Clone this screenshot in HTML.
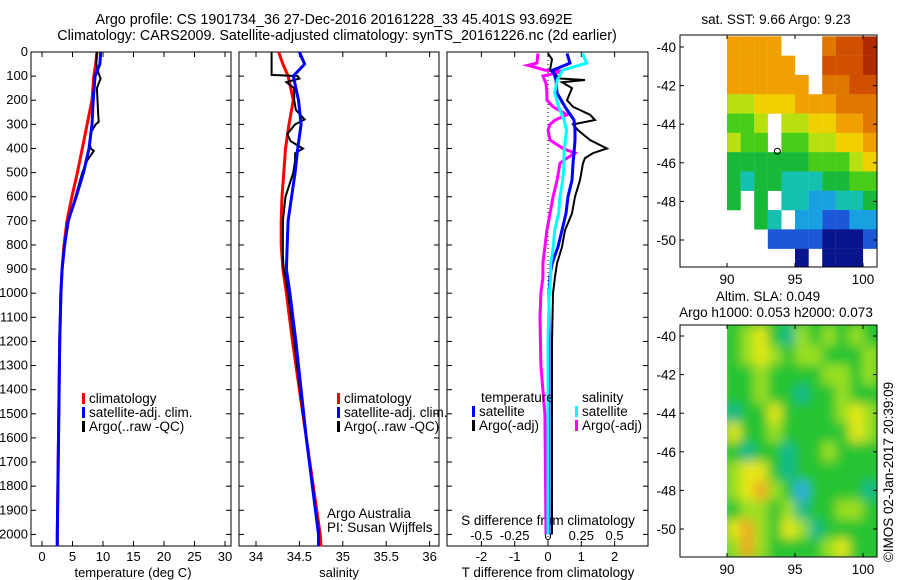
<!DOCTYPE html>
<html><head><meta charset="utf-8"><style>
body{margin:0;background:#fff;}
svg{display:block;font-family:"Liberation Sans",sans-serif;}
text{font-size:13px;fill:#000;}
text.big{font-size:14.3px;}
text.leg{font-size:13.5px;}
</style></head><body>
<svg id="c" width="900" height="580" xmlns="http://www.w3.org/2000/svg">
<defs>
<clipPath id="cp1"><rect x="680" y="35" width="197" height="232"/></clipPath>
<clipPath id="cp2"><rect x="727" y="325" width="150" height="232"/></clipPath>
<filter id="blur" x="-5%" y="-5%" width="110%" height="110%"><feGaussianBlur stdDeviation="5.5"/></filter>
</defs>
<text class="big" x="334" y="24" text-anchor="middle">Argo profile: CS 1901734_36 27-Dec-2016 20161228_33 45.401S 93.692E</text>
<text class="big" x="337" y="40" text-anchor="middle">Climatology: CARS2009. Satellite-adjusted climatology: synTS_20161226.nc (2d earlier)</text>
</svg>
<script>
// ---- data ----
const tDepth=[0,50,100,200,300,400,500,600,700,800,900,1000,1200,1400,1600,1800,2000,2050];
const tClim=[9.0,8.8,8.5,8.2,7.4,6.6,5.8,4.9,4.1,3.6,3.3,3.1,2.9,2.8,2.7,2.6,2.5,2.5];
const tSat=[9.6,9.5,8.7,8.4,8.2,7.7,6.8,5.6,4.3,3.7,3.3,3.1,2.9,2.8,2.7,2.6,2.5,2.5];
const tArgoDepth=[0,50,90,110,150,200,250,290,300,330,380,400,410,450,500,600,700,800,900,1000,1200,1500,1800,2000];
const tArgo=[9.0,8.9,9.3,9.6,9.0,9.1,9.2,9.3,8.8,8.1,7.8,8.0,8.5,7.4,6.6,5.5,4.4,3.7,3.3,3.1,2.9,2.8,2.6,2.5];
const sDepth=[0,50,100,200,300,400,500,600,700,800,900,1000,1200,1400,1600,1800,2000,2050];
const sClim=[34.26,34.31,34.37,34.43,34.38,34.34,34.32,34.30,34.29,34.29,34.31,34.35,34.42,34.50,34.58,34.66,34.74,34.75];
const sSat=[34.50,34.56,34.43,34.49,34.52,34.48,34.45,34.41,34.37,34.36,34.35,34.39,34.46,34.52,34.58,34.65,34.72,34.72];
const sArgoDepth=[0,95,100,110,125,150,200,240,280,300,340,370,400,420,450,500,600,700,850,900,1000,1200,1500,1800,2000];
const sArgo=[34.18,34.18,34.48,34.50,34.35,34.44,34.44,34.46,34.56,34.45,34.36,34.40,34.54,34.45,34.45,34.43,34.34,34.31,34.31,34.32,34.37,34.44,34.54,34.65,34.73];
const dDepth=[6,46,75,116,170,227,282,324,365,419,461,531,600,669,739,808,877,933,1000,1200,1400,1600,1800,2000];
const dTSat=[0.57,0.66,0.15,0.24,0.27,0.51,0.78,0.81,0.81,0.78,0.75,0.72,0.60,0.54,0.42,0.30,0.12,0.06,0.03,0.03,0.03,0.03,0.03,0.03];
const dSSat=[0.26,0.29,0.11,0.07,0.05,0.08,0.12,0.14,0.13,0.12,0.12,0.11,0.09,0.08,0.05,0.04,0.02,0.02,0.01,0,0,0,0,0];
const dTArgoDepth=[6,30,75,110,116,125,150,170,200,227,260,282,300,324,365,400,419,440,461,531,600,669,739,808,877,933,1000,1200,1500,1800,2000];
const dTArgo=[0,0.12,0.06,0.36,1.11,0.42,0.72,0.66,0.57,0.75,1.26,1.41,0.75,0.90,1.26,1.77,1.35,1.11,1.05,0.96,0.81,0.72,0.51,0.42,0.27,0.21,0.15,0.12,0.12,0.12,0.12];
const dSArgoDepth=[6,46,55,75,80,100,130,170,200,227,260,282,300,324,365,400,419,440,461,531,600,669,739,808,877,933,1000,1100,1300,1500,2000];
const dSArgo=[-0.075,-0.083,-0.15,-0.023,0.113,-0.038,-0.015,-0.008,-0.008,0.038,0.143,0.053,0.015,0,0.015,0.113,0.203,0.143,0.09,0.068,0.038,0.015,-0.008,-0.023,-0.038,-0.038,-0.053,-0.06,-0.053,-0.023,-0.015];
const depthTicks=[0,100,200,300,400,500,600,700,800,900,1000,1100,1200,1300,1400,1500,1600,1700,1800,1900,2000];
const tTicks=[0,5,10,15,20,25,30];
const sTicks=[34,34.5,35,35.5,36];
const dTTicks=[-2,-1,0,1,2];
const dSTicks=[-0.5,-0.25,0,0.25,0.5];
const latTicks=[-40,-42,-44,-46,-48,-50];
const lonTicks=[90,95,100];
const gridLons=[90,91,92,93,94,95,96,97,98,99,100];
const gridLats=[-40,-41,-42,-43,-44,-45,-46,-47,-48,-49,-50,-51];
const N=null;
const sst=[
[12,12,12,12,N,N,N,13,14,14,15],
[12,12,12,12,12,N,N,14,14,14,15],
[12,12,12,12,12,12,N,13,13,14,14],
[10,10,11,11,11,12,12,12,13,13,13],
[9,9,10,N,10,10,11,11,12,12,13],
[10,9,9,N,9,9,10,10,11,11,12],
[8,8,8,8,8,8,9,9,9,10,11],
[8,7,8,8,7,7,7,8,8,9,9],
[8,N,8,N,7,7,6,6,7,7,8],
[N,N,8,7,N,6,6,5,5,6,6],
[N,N,N,5,5,5,5,4,4,4,5],
[N,N,N,N,N,4,N,4,4,4,N]];
const sla=[
[0,1,2,0,-1,1,0,1,0,1,0],
[0,1,2,1,0,1,1,0,0,0,1],
[0,0,1,0,0,0,0,1,1,0,1],
[0,0,1,0,0,-1,0,0,1,0,0],
[-1,0,0,2,0,0,0,0,1,2,1],
[2,0,0,1,0,0,0,0,0,2,1],
[0,-1,0,0,-1,0,0,1,0,0,0],
[1,2,2,0,-1,0,0,0,0,0,0],
[1,2,3,1,0,-2,0,0,0,0,-1],
[0,1,1,0,1,-1,0,0,1,1,0],
[2,3,1,0,2,1,-1,0,0,0,0],
[1,3,1,0,0,0,0,1,2,0,0]];

// ---- helpers ----
const svg=document.getElementById('c');
const NS='http://www.w3.org/2000/svg';
function mk(tag,attrs,parent){const e=document.createElementNS(NS,tag);for(const k in attrs)e.setAttribute(k,attrs[k]);(parent||svg).appendChild(e);return e;}
function txt(x,y,s,anchor,parent){const e=mk('text',{x:x,y:y,'text-anchor':anchor||'middle'},parent);e.textContent=s;return e;}
const yD=d=>52+d*0.2412;
const xT=t=>42+t*6.1;
const xS=s=>256+(s-34)*86.8;
const xDT=t=>548+t*33.3;
const xDS=s=>548+s*133.2;
function line(xs,depths,xf,color,w,name){
  const pts=xs.map((v,i)=>xf(v).toFixed(1)+','+yD(depths[i]).toFixed(1)).join(' ');
  const p=mk('polyline',{points:pts,fill:'none',stroke:color,'stroke-width':w,'stroke-linejoin':'miter'});
  
  
}
function panel(x0,x1,name){
  const r=mk('rect',{x:x0,y:52,width:x1-x0,height:494,fill:'none',stroke:'#000','stroke-width':1});
  
  
  depthTicks.forEach(d=>{mk('line',{x1:x0,x2:x0+5,y1:yD(d),y2:yD(d),stroke:'#000'});mk('line',{x1:x1-5,x2:x1,y1:yD(d),y2:yD(d),stroke:'#000'});});
}
// panel 1
panel(31,231,'temperature-panel');
depthTicks.forEach(d=>{const t=txt(28,yD(d)+4,String(d),'end');});
tTicks.forEach(v=>{mk('line',{x1:xT(v),x2:xT(v),y1:546,y2:541,stroke:'#000'});mk('line',{x1:xT(v),x2:xT(v),y1:52,y2:57,stroke:'#000'});const t=txt(xT(v),561,String(v));});
{const t=txt(133,577,'temperature (deg C)');}
line(tClim,tDepth,xT,'#f00',3,'temperature-climatology-line');
line(tArgo,tArgoDepth,xT,'#000',2,'temperature-argo-line');
line(tSat,tDepth,xT,'#00f',3,'temperature-satellite-line');
// panel 2
panel(239,439,'salinity-panel');
sTicks.forEach(v=>{mk('line',{x1:xS(v),x2:xS(v),y1:546,y2:541,stroke:'#000'});mk('line',{x1:xS(v),x2:xS(v),y1:52,y2:57,stroke:'#000'});const t=txt(xS(v),561,String(v));});
{const t=txt(339,577,'salinity');}
line(sClim,sDepth,xS,'#f00',3,'salinity-climatology-line');
line(sArgo,sArgoDepth,xS,'#000',2,'salinity-argo-line');
line(sSat,sDepth,xS,'#00f',3,'salinity-satellite-line');
// panel 3
panel(447,648,'difference-panel');
mk('line',{x1:548,x2:548,y1:52,y2:546,stroke:'#000','stroke-dasharray':'1,3'});
dTTicks.forEach(v=>{mk('line',{x1:xDT(v),x2:xDT(v),y1:546,y2:541,stroke:'#000'});mk('line',{x1:xDT(v),x2:xDT(v),y1:52,y2:57,stroke:'#000'});const t=txt(xDT(v),561,String(v));});
dSTicks.forEach(v=>{const t=txt(xDS(v),540,String(v));});
{const t=txt(548,525,'S difference from climatology');t.setAttribute('class','leg');}
{const t=txt(548,577,'T difference from climatology');t.setAttribute('class','leg');}
line(dSArgo,dSArgoDepth,xDS,'#f0f',3,'salinity-argo-diff-line');
line(dTArgo,dTArgoDepth,xDT,'#000',2,'temperature-argo-diff-line');
line(dTSat,dDepth,xDT,'#00f',3,'temperature-satellite-diff-line');
line(dSSat,dDepth,xDS,'#0ff',3,'salinity-satellite-diff-line');
// legends
function leg(x,y,color,label,name){const g=mk('g',{});mk('rect',{x:x,y:y-10,width:3,height:11,fill:color},g);const t=txt(x+7,y,label,'start',g);t.setAttribute('class','leg');}
leg(82,403,'#f00','climatology','legend-climatology');
leg(82,417,'#00f','satellite-adj. clim.','legend-satellite-adj');
leg(82,431,'#000','Argo(..raw -QC)','legend-argo-raw');
leg(337,403,'#f00','climatology','legend2-climatology');
leg(337,417,'#00f','satellite-adj. clim.','legend2-satellite-adj');
leg(337,431,'#000','Argo(..raw -QC)','legend2-argo-raw');
{const t=txt(481,402,'temperature','start');t.setAttribute('class','leg');}
leg(472,416,'#00f','satellite','legend-t-satellite');
leg(472,430,'#000','Argo(-adj)','legend-t-argo');
{const t=txt(582,402,'salinity','start');t.setAttribute('class','leg');}
leg(575,416,'#0ff','satellite','legend-s-satellite');
leg(575,430,'#f0f','Argo(-adj)','legend-s-argo');
{const t=txt(327,518,'Argo Australia','start');t.setAttribute('class','leg');}
{const t=txt(327,532,'PI: Susan Wijffels','start');t.setAttribute('class','leg');}
// maps
const xL=lon=>727+(lon-90)*13.6;
function sstColor(v){const c={4:'#0a148c',5:'#1a58d8',6:'#18a0e0',7:'#14c0b0',8:'#18b838',9:'#48cc18',10:'#b8e010',11:'#f0d000',12:'#f0a000',13:'#e07800',14:'#d05000',15:'#b02c00'};return c[v];}
function slaColor(v){const c={'-2':'#30a8e8','-1':'#10b890','0':'#28c430','1':'#9ce020','2':'#e6e818','3':'#f0a820'};return c[String(v)];}
function mapAxes(y0,top,name){
  const r=mk('rect',{x:680,y:top,width:197,height:232,fill:'none',stroke:'#000'});
  
  latTicks.forEach(l=>{const y=y0+(-40-l)*19.3;mk('line',{x1:680,x2:684,y1:y,y2:y,stroke:'#000'});mk('line',{x1:873,x2:877,y1:y,y2:y,stroke:'#000'});const t=txt(676,y+5,String(l),'end');t.setAttribute('class','leg');});
  lonTicks.forEach(l=>{mk('line',{x1:xL(l),x2:xL(l),y1:top+232,y2:top+228,stroke:'#000'});mk('line',{x1:xL(l),x2:xL(l),y1:top,y2:top+4,stroke:'#000'});const t=txt(xL(l),top+249,String(l));t.setAttribute('class','leg');});
}
const g1=mk('g',{'clip-path':'url(#cp1)'});

gridLats.forEach((lat,i)=>gridLons.forEach((lon,j)=>{const v=sst[i][j];if(v===null)return;const c=mk('rect',{x:xL(lon),y:47+(-40-lat-0.5)*19.3-1,width:13.7,height:19.5,fill:sstColor(v)},g1);}));
mk('circle',{cx:xL(93.7),cy:47+5.4*19.3,r:3,fill:'none',stroke:'#000'});
mapAxes(47,35,'sst-map-frame');
{const t=txt(776,24,'sat. SST: 9.66 Argo: 9.23');t.setAttribute('class','leg');}
const g2o=mk('g',{'clip-path':'url(#cp2)'});
const g2=mk('g',{filter:'url(#blur)'},g2o);

mk('rect',{x:720,y:315,width:170,height:250,fill:'#28c430'},g2);
gridLats.forEach((lat,i)=>gridLons.forEach((lon,j)=>{const v=sla[i][j];const c=mk('rect',{x:xL(lon),y:336+(-40-lat-0.5)*19.3,width:13.7,height:19.4,fill:slaColor(v)},g2);}));
mapAxes(336,325,'sla-map-frame');
{const t=txt(768,301,'Altim. SLA: 0.049');t.setAttribute('class','leg');}
{const t=txt(776,317,'Argo h1000: 0.053 h2000: 0.073');t.setAttribute('class','leg');}
{const t=txt(0,0,'©IMOS 02-Jan-2017 20:39:09');t.setAttribute('class','leg');t.setAttribute('transform','translate(893,472) rotate(-90)');}
</script>
</body></html>
